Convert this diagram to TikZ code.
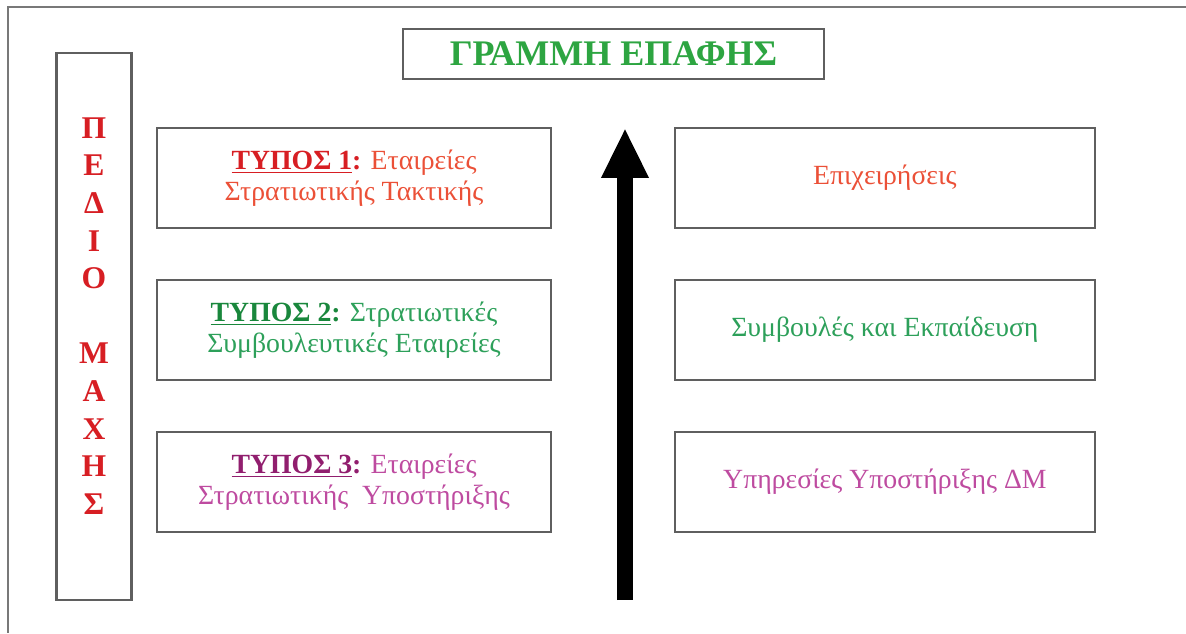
\documentclass[tikz,border=0pt]{standalone}
\usepackage{fontspec}
\setmainfont{Liberation Serif}
\usetikzlibrary{positioning,arrows.meta}

\definecolor{boxgray}{RGB}{95,95,95}
\definecolor{framegray}{RGB}{120,120,120}
\definecolor{redhead}{RGB}{215,30,35}
\definecolor{redtext}{RGB}{235,80,55}
\definecolor{greenhead}{RGB}{25,135,60}
\definecolor{greentext}{RGB}{45,160,90}
\definecolor{purplehead}{RGB}{145,30,110}
\definecolor{purpletext}{RGB}{190,75,160}
\definecolor{titlegreen}{RGB}{45,165,65}

\newcommand{\typehead}[2]{\textcolor{#1}{\textbf{\underline{#2}:}}}

\begin{document}
\begin{tikzpicture}[
        x=0.02cm,y=-0.02cm,
        on grid,node distance=3.04cm and 10.62cm,
        object/.style={
          draw=boxgray,line width=1.5pt,minimum width=7.88cm,minimum height=2cm,
          align=center,font=\fontsize{15.8}{17.5}\selectfont},
        task/.style={object,minimum width=8.4cm},
        every edge/.append style={line width=0.32cm,-{Triangle[length=1cm,width=0.88cm]}}]
      \useasboundingbox (0,0) rectangle (1186,633);
      \draw[framegray,line width=0.8pt] (1186,7) -- (8,7) -- (8,633);
      \node[object, minimum width=8.42cm, minimum height=1cm,
        font=\fontsize{20.5}{22}\selectfont\bfseries, text=titlegreen] (contact) at (613.5,54) {ΓΡΑΜΜΗ ΕΠΑΦΗΣ};
      \node[object, minimum width=1.5cm, minimum height=10.94cm] (field) at (94,326.5) {};
      \node[align=center, text=redhead, font=\fontsize{18}{21.4}\selectfont\bfseries] (fieldtext) at (94,316)
        {Π\\Ε\\Δ\\Ι\\Ο\\\mbox{}\\Μ\\Α\\Χ\\Η\\Σ};
      \node[object, text=redtext] (type1) at (354,178) {\typehead{redhead}{ΤΥΠΟΣ 1} Εταιρείες\\Στρατιωτικής Τακτικής};
      \node[object, text=greentext, below=of type1] (type2) {\typehead{greenhead}{ΤΥΠΟΣ 2} Στρατιωτικές\\Συμβουλευτικές Εταιρείες};
      \node[object, text=purpletext, below=of type2] (type3) {\typehead{purplehead}{ΤΥΠΟΣ 3} Εταιρείες\\Στρατιωτικής\ \ Υποστήριξης};
      \node[task, text=redtext, right=of type1] (ops) {Επιχειρήσεις};
      \node[task, text=greentext, right=of type2] (advice) {Συμβουλές και Εκπαίδευση};
      \node[task, text=purpletext, right=of type3] (support) {Υπηρεσίες Υποστήριξης ΔΜ};
      \coordinate (rear) at (625,600);
      \coordinate (front) at (625,128);
      \path (rear) edge[black] (front);
    \end{tikzpicture}
\end{document}
